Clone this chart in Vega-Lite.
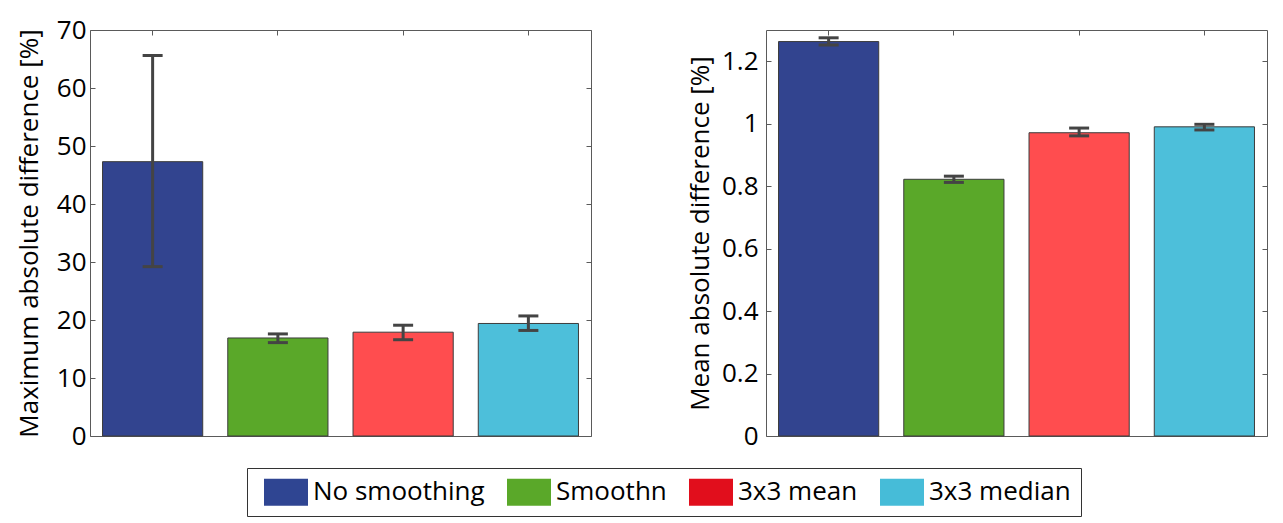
{
  "$schema": "https://vega.github.io/schema/vega-lite/v6.json",
  "padding": {"left": 15, "top": 16, "right": 14, "bottom": 5},
  "background": "white",
  "config": {
    "font": "Open Sans",
    "view": {"stroke": "#5a5a5a", "strokeWidth": 1},
    "axis": {
      "labelFont": "Open Sans", "labelFontSize": 26, "labelColor": "#000000",
      "titleFont": "Open Sans", "titleFontSize": 26, "titleFontWeight": "normal", "titleColor": "#000000",
      "domain": false, "grid": false, "tickColor": "#5a5a5a", "tickSize": -5, "tickWidth": 1, "labelPadding": 12
    },
    "legend": {
      "labelFont": "Open Sans", "labelFontSize": 26, "labelColor": "#000000", "labelLimit": 400,
      "symbolType": "M-0.5,-0.964L2.643,-0.964L2.643,0.964L-0.5,0.964Z", "symbolSize": 784,
      "symbolStrokeWidth": 0, "symbolOpacity": 1,
      "strokeColor": "#333333", "fillColor": "#ffffff", "padding": 10,
      "columnPadding": 15, "labelOffset": 28
    }
  },
  "datasets": {
    "d": [
      {"method": "No smoothing", "max": 47.3, "maxLo": 29.2, "maxHi": 65.6, "mean": 1.263, "meanLo": 1.252, "meanHi": 1.275},
      {"method": "Smoothn", "max": 16.9, "maxLo": 16.1, "maxHi": 17.6, "mean": 0.822, "meanLo": 0.812, "meanHi": 0.832},
      {"method": "3x3 mean", "max": 17.9, "maxLo": 16.6, "maxHi": 19.1, "mean": 0.971, "meanLo": 0.961, "meanHi": 0.986},
      {"method": "3x3 median", "max": 19.4, "maxLo": 18.2, "maxHi": 20.7, "mean": 0.990, "meanLo": 0.980, "meanHi": 0.998}
    ]
  },
  "data": {"name": "d"},
  "spacing": 94,
  "hconcat": [
    {
      "width": 501, "height": 406,
      "encoding": {
        "x": {"field": "method", "type": "nominal", "sort": null,
              "scale": {"paddingInner": 0.2, "paddingOuter": 0.1},
              "axis": {"orient": "top", "labels": false, "title": null}}
      },
      "layer": [
        {
          "mark": {"type": "bar", "opacity": 0},
          "encoding": {
            "y": {"field": "max", "type": "quantitative", "axis": null},
            "color": {"field": "method", "type": "nominal", "sort": null,
                      "scale": {"range": ["#2f4592", "#5aa829", "#e10e1c", "#46bcd8"]},
                      "legend": {"orient": "none", "legendX": 157, "legendY": 438, "direction": "horizontal", "title": null,
                                 "symbolType": "M-0.5,-0.964L2.643,-0.964L2.643,0.964L-0.5,0.964Z", "symbolSize": 784, "symbolOpacity": 1, "symbolStrokeWidth": 0}}
          }
        },
        {
          "mark": {"type": "bar", "stroke": "#3c3c3c", "strokeWidth": 1},
          "encoding": {
            "y": {"field": "max", "type": "quantitative", "scale": {"domain": [0, 70], "nice": false},
                  "axis": {"orient": "left", "title": "Maximum absolute difference [%]", "values": [0, 10, 20, 30, 40, 50, 60, 70], "titlePadding": 14, "labelPadding": 9}},
            "fill": {"field": "method", "type": "nominal", "sort": null,
                     "scale": {"range": ["#32448f", "#5aa829", "#ff4d4f", "#4dbfda"]}, "legend": null}
          }
        },
        {
          "mark": {"type": "rule", "color": "#444444", "strokeWidth": 3},
          "encoding": {
            "y": {"field": "maxLo", "type": "quantitative", "axis": {"orient": "right", "labels": false, "title": null, "values": [0, 10, 20, 30, 40, 50, 60, 70]}},
            "y2": {"field": "maxHi"}
          }
        },
        {
          "mark": {"type": "tick", "color": "#444444", "thickness": 3, "size": 20, "opacity": 1},
          "encoding": {"y": {"field": "maxLo", "type": "quantitative", "axis": null}}
        },
        {
          "mark": {"type": "tick", "color": "#444444", "thickness": 3, "size": 20, "opacity": 1},
          "encoding": {"y": {"field": "maxHi", "type": "quantitative", "axis": null}}
        }
      ]
    },
    {
      "width": 501, "height": 406,
      "encoding": {
        "x": {"field": "method", "type": "nominal", "sort": null,
              "scale": {"paddingInner": 0.2, "paddingOuter": 0.1},
              "axis": {"orient": "top", "labels": false, "title": null}}
      },
      "layer": [
        {
          "mark": {"type": "bar", "stroke": "#3c3c3c", "strokeWidth": 1},
          "encoding": {
            "y": {"field": "mean", "type": "quantitative", "scale": {"domain": [0, 1.3], "nice": false},
                  "axis": {"orient": "left", "title": "Mean absolute difference [%]", "values": [0, 0.2, 0.4, 0.6, 0.8, 1, 1.2], "format": "~g", "titlePadding": 8, "labelPadding": 13}},
            "fill": {"field": "method", "type": "nominal", "sort": null,
                     "scale": {"range": ["#32448f", "#5aa829", "#ff4d4f", "#4dbfda"]}, "legend": null}
          }
        },
        {
          "mark": {"type": "rule", "color": "#444444", "strokeWidth": 3},
          "encoding": {
            "y": {"field": "meanLo", "type": "quantitative", "axis": {"orient": "right", "labels": false, "title": null, "values": [0, 0.2, 0.4, 0.6, 0.8, 1, 1.2]}},
            "y2": {"field": "meanHi"}
          }
        },
        {
          "mark": {"type": "tick", "color": "#444444", "thickness": 3, "size": 20, "opacity": 1},
          "encoding": {"y": {"field": "meanLo", "type": "quantitative", "axis": null}}
        },
        {
          "mark": {"type": "tick", "color": "#444444", "thickness": 3, "size": 20, "opacity": 1},
          "encoding": {"y": {"field": "meanHi", "type": "quantitative", "axis": null}}
        }
      ]
    }
  ]
}
